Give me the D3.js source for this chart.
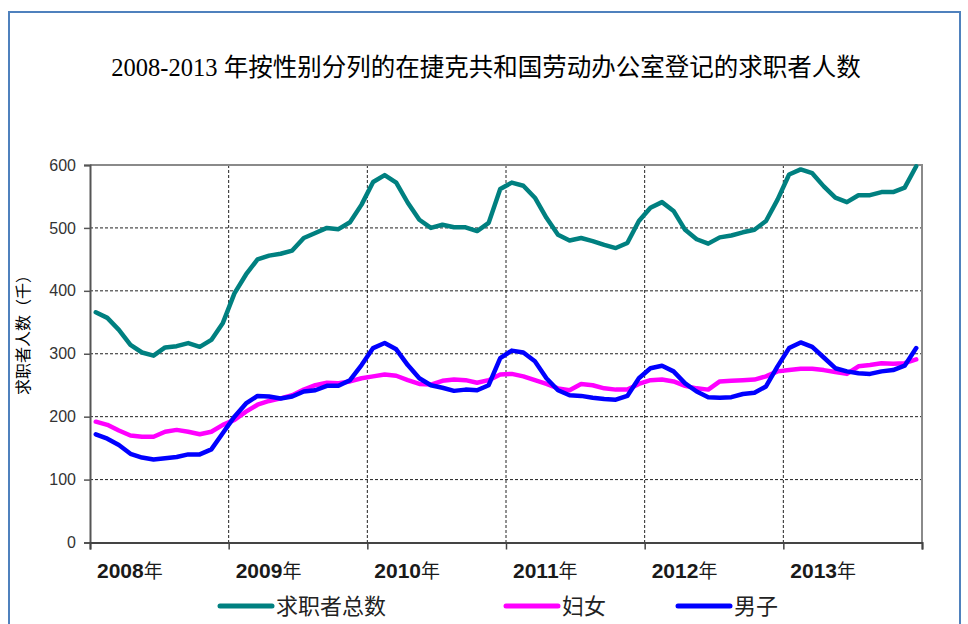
<!DOCTYPE html>
<html>
<head>
<meta charset="utf-8">
<script src="https://cdn.jsdelivr.net/npm/d3@7"></script>
<style>
  body { margin: 0; background: #fff; }
</style>
</head>
<body>
<script>
'use strict';

// monthly values, Jan 2008 .. Dec 2013 (thousands)
const years = ['2008', '2009', '2010', '2011', '2012', '2013'];
const yTicks = [0, 100, 200, 300, 400, 500, 600];

const total = [
  366, 357, 338, 314, 302, 297, 310, 312, 317, 311, 322, 349,
  396, 426, 450, 456, 459, 464, 484, 492, 500, 498, 509, 537,
  573, 584, 572, 540, 513, 500, 505, 501, 501, 495, 508, 562,
  572, 567, 548, 516, 489, 480, 484, 479, 473, 468, 476, 511,
  532, 541, 527, 497, 482, 475, 485, 488, 493, 497, 511, 545,
  585, 593, 587, 566, 548, 541, 552, 552, 557, 557, 564, 598
];
const women = [
  192, 187, 178, 170, 168, 168, 176, 179, 176, 172, 176, 187,
  195, 208, 219, 225, 229, 234, 243, 250, 254, 253, 256, 261,
  264, 267, 265, 258, 252, 251, 257, 259, 258, 254, 258, 267,
  268, 264, 258, 252, 245, 242, 252, 250, 245, 243, 243, 252,
  258, 259, 256, 249, 245, 243, 256, 257, 258, 259, 264, 272,
  274, 276, 276, 274, 271, 268, 280, 282, 285, 284, 285, 291
];
const men = [
  172, 165, 155, 141, 135, 132, 134, 136, 140, 140, 148, 174,
  200, 221, 233, 232, 229, 232, 240, 242, 249, 249, 258, 282,
  309, 317, 307, 282, 261, 250, 246, 241, 243, 242, 250, 293,
  305, 302, 288, 261, 242, 234, 233, 230, 228, 227, 233, 261,
  277, 281, 272, 253, 240, 231, 230, 231, 236, 238, 248, 280,
  309, 318, 311, 294, 277, 272, 269, 268, 272, 274, 281, 309
];

const seriesNames = ['求职者总数', '妇女', '男子'];
const seriesColors = ['#008080', '#ff00ff', '#0000ff'];

(function() {
  let width = 968;
  let height = 624;

  let svg = d3.select('body').append('svg')
    .attr('width', width)
    .attr('height', height);

  // outer frame
  svg.append('rect')
    .attr('x', 9).attr('y', 12)
    .attr('width', 951).attr('height', 640)
    .attr('fill', 'none')
    .attr('stroke', '#4f81bd')
    .attr('stroke-width', 2);

  // title
  svg.append('text')
    .attr('x', 486).attr('y', 76)
    .attr('text-anchor', 'middle')
    .style('font-family', '"Liberation Serif", "Noto Sans CJK SC", serif')
    .style('font-size', '24.5px')
    .text('2008-2013 年按性别分列的在捷克共和国劳动办公室登记的求职者人数');

  let pLeft = 90, pRight = 922, pTop = 165, pBottom = 542.5;
  let nMonths = total.length;

  let xScale = d3.scaleLinear().domain([0, nMonths]).range([pLeft, pRight]);
  let yScale = d3.scaleLinear().domain([0, 600]).range([pBottom, pTop]);

  // horizontal grid
  svg.append('g')
    .selectAll('line')
    .data(yTicks.filter(d => d > 0 && d < 600))
    .enter().append('line')
    .attr('x1', pLeft).attr('x2', pRight)
    .attr('y1', d => yScale(d)).attr('y2', d => yScale(d))
    .attr('stroke', '#222')
    .attr('stroke-width', 1)
    .attr('stroke-dasharray', '3,2');

  // vertical grid at year boundaries
  svg.append('g')
    .selectAll('line')
    .data(d3.range(1, years.length))
    .enter().append('line')
    .attr('x1', d => xScale(d * 12)).attr('x2', d => xScale(d * 12))
    .attr('y1', pTop).attr('y2', pBottom)
    .attr('stroke', '#222')
    .attr('stroke-width', 1)
    .attr('stroke-dasharray', '3,2');

  // plot border (top, right)
  svg.append('path')
    .attr('d', 'M' + pLeft + ',' + pTop + 'H' + pRight + 'V' + pBottom)
    .attr('fill', 'none')
    .attr('stroke', '#8a8a8a')
    .attr('stroke-width', 2);

  // y axis
  let yAxis = d3.axisLeft(yScale).tickValues(yTicks).tickSize(6).tickPadding(8);
  let gy = svg.append('g')
    .attr('transform', 'translate(' + pLeft + ',0)')
    .call(yAxis);
  gy.select('.domain').attr('stroke', '#555').attr('stroke-width', 2);
  gy.selectAll('.tick line').attr('stroke', '#555').attr('stroke-width', 1.5);
  gy.selectAll('.tick text')
    .style('font-family', '"Liberation Sans", Arial, sans-serif')
    .style('font-size', '16px')
    .attr('fill', '#333');

  // x axis (ticks at year boundaries)
  let xAxis = d3.axisBottom(xScale)
    .tickValues(d3.range(0, nMonths + 1, 12))
    .tickSize(7)
    .tickFormat('');
  let gx = svg.append('g')
    .attr('transform', 'translate(0,' + pBottom + ')')
    .call(xAxis);
  gx.select('.domain').attr('stroke', '#444').attr('stroke-width', 2);
  gx.selectAll('.tick line').attr('stroke', '#444').attr('stroke-width', 1.5);

  // year labels
  let yl = svg.append('g').selectAll('text')
    .data(years)
    .enter().append('text')
    .attr('x', (d, i) => xScale(i * 12) + 7)
    .attr('y', 578);
  yl.append('tspan')
    .style('font-family', '"Liberation Sans", Arial, sans-serif')
    .style('font-weight', 'bold')
    .style('font-size', '21px')
    .attr('fill', '#1a1a1a')
    .text(d => d);
  yl.append('tspan')
    .style('font-family', '"Noto Sans CJK SC", sans-serif')
    .style('font-size', '19px')
    .attr('fill', '#1a1a1a')
    .text('年');

  // y axis title
  svg.append('text')
    .attr('transform', 'translate(29, 331)rotate(-90)')
    .attr('text-anchor', 'middle')
    .style('font-family', '"Noto Sans CJK SC", sans-serif')
    .style('font-size', '16px')
    .text('求职者人数（千）');

  // lines
  let line = d3.line()
    .x((d, i) => xScale(i + 0.5))
    .y(d => yScale(d));

  [total, women, men].forEach(function(s, k) {
    svg.append('path')
      .datum(s)
      .attr('d', line)
      .attr('fill', 'none')
      .attr('stroke', seriesColors[k])
      .attr('stroke-width', 4.5)
      .attr('stroke-linejoin', 'round')
      .attr('stroke-linecap', 'round');
  });

  // legend
  let legendX = [220, 506, 678];
  let lg = svg.append('g').selectAll('g')
    .data(seriesNames)
    .enter().append('g')
    .attr('transform', (d, i) => 'translate(' + legendX[i] + ',606)');
  lg.append('line')
    .attr('x1', 0).attr('x2', 52)
    .attr('y1', 0).attr('y2', 0)
    .attr('stroke', (d, i) => seriesColors[i])
    .attr('stroke-width', 5)
    .attr('stroke-linecap', 'round');
  lg.append('text')
    .attr('x', 56).attr('y', 8)
    .style('font-family', '"Noto Sans CJK SC", sans-serif')
    .style('font-size', '22px')
    .attr('fill', '#222')
    .text(d => d);
})();
</script>
</body>
</html>
